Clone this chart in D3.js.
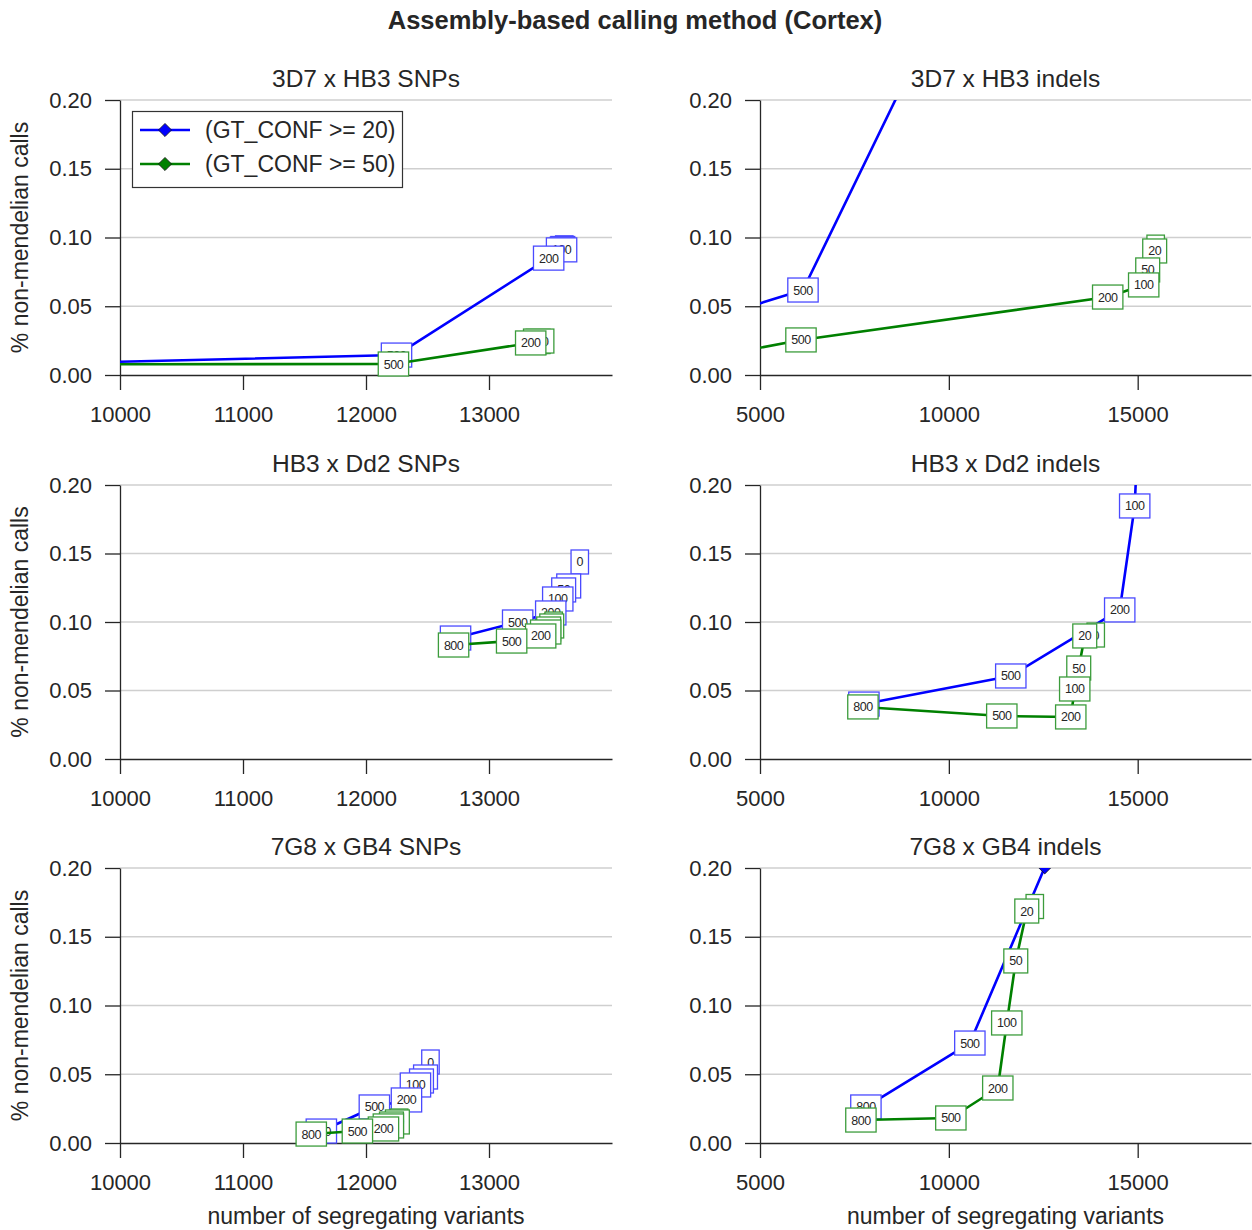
<!DOCTYPE html>
<html>
<head>
<meta charset="utf-8">
<script src="https://cdn.jsdelivr.net/npm/d3@7"></script>
<style>
  body { margin: 0; background: #fff; }
  text { font-family: "Liberation Sans", Arial, sans-serif; fill: #262626; }
</style>
</head>
<body>
<script>
// thresholds used as point labels, in drawing order
const thresholds = [0, 20, 50, 100, 200, 500, 800];

const panelTitles = ["3D7 x HB3 SNPs", "3D7 x HB3 indels", "HB3 x Dd2 SNPs",
                     "HB3 x Dd2 indels", "7G8 x GB4 SNPs", "7G8 x GB4 indels"];
const seriesNames = ["(GT_CONF >= 20)", "(GT_CONF >= 50)"];

const snpXTicks = [10000, 11000, 12000, 13000];
const indelXTicks = [5000, 10000, 15000];
const yTicks = [0, 0.05, 0.10, 0.15, 0.20];

// number of segregating variants / fraction non-mendelian, per threshold
const hb3SnpX20   = [13612, 13600, 13595, 13590, 13485, 12248, 9500];
const hb3SnpY20   = [0.0925, 0.092, 0.0915, 0.091, 0.085, 0.0145, 0.0085];
const hb3SnpX50   = [13396, 13398, 13400, 13404, 13339, 12223, 9500];
const hb3SnpY50   = [0.0242, 0.0243, 0.0245, 0.0247, 0.0233, 0.008, 0.0078];

const hb3IndelX20 = [14000, 13500, 13000, 12000, 10000, 6138, 4500];
const hb3IndelY20 = [0.6, 0.55, 0.5, 0.4, 0.28, 0.0618, 0.0479];
const hb3IndelX50 = [15476, 15450, 15265, 15159, 14206, 6085, 4500];
const hb3IndelY50 = [0.093, 0.0902, 0.0764, 0.0655, 0.0567, 0.0255, 0.0172];

const dd2SnpX20   = [13738, 13648, 13607, 13559, 13502, 13233, 12728];
const dd2SnpY20   = [0.1438, 0.1263, 0.1234, 0.1168, 0.1066, 0.100, 0.0883];
const dd2SnpX50   = [13526, 13510, 13485, 13461, 13420, 13184, 12712];
const dd2SnpY50   = [0.0985, 0.0971, 0.0949, 0.0927, 0.0898, 0.0861, 0.0832];

const dd2IndelX20 = [15300, 15200, 15026, 14921, 14524, 11640, 7751];
const dd2IndelY20 = [0.35, 0.3, 0.25, 0.1847, 0.1088, 0.0606, 0.0401];
const dd2IndelX50 = [13889, 13598, 13439, 13333, 13228, 11402, 7725];
const dd2IndelY50 = [0.0905, 0.0898, 0.0664, 0.0511, 0.0307, 0.0314, 0.038];

const gb4SnpX20   = [12524, 12484, 12451, 12402, 12329, 12068, 11637];
const gb4SnpY20   = [0.0589, 0.048, 0.0451, 0.0422, 0.0313, 0.0262, 0.0087];
const gb4SnpX50   = [12270, 12255, 12207, 12182, 12142, 11930, 11555];
const gb4SnpY50   = [0.016, 0.0153, 0.0138, 0.0124, 0.0102, 0.0087, 0.0065];

const gb4IndelX20 = [13400, 13200, 13000, 12800, 12540, 10556, 7804];
const gb4IndelY20 = [0.42, 0.35, 0.3, 0.25, 0.2005, 0.0727, 0.0262];
const gb4IndelX50 = [12275, 12063, 11772, 11534, 11296, 10053, 7672];
const gb4IndelY50 = [0.172, 0.1687, 0.1324, 0.0873, 0.04, 0.0182, 0.0167];

const panelData = [
  [[hb3SnpX20, hb3SnpY20], [hb3SnpX50, hb3SnpY50]],
  [[hb3IndelX20, hb3IndelY20], [hb3IndelX50, hb3IndelY50]],
  [[dd2SnpX20, dd2SnpY20], [dd2SnpX50, dd2SnpY50]],
  [[dd2IndelX20, dd2IndelY20], [dd2IndelX50, dd2IndelY50]],
  [[gb4SnpX20, gb4SnpY20], [gb4SnpX50, gb4SnpY50]],
  [[gb4IndelX20, gb4IndelY20], [gb4IndelX50, gb4IndelY50]]
];

const lineColors = ["#0000ff", "#008000"];
const boxColors = ["#4a4aff", "#3c9c3c"];

const cols = [{x0: 120, x1: 612, dom: [10000, 14000], ticks: snpXTicks},
              {x0: 760, x1: 1251, dom: [5000, 18000], ticks: indelXTicks}];
const rows = [{top: 100, bottom: 375}, {top: 485, bottom: 759}, {top: 868, bottom: 1143}];

const svg = d3.select("body").append("svg")
    .attr("width", 1252).attr("height", 1230);

svg.append("text")
    .attr("x", 635).attr("y", 29)
    .attr("text-anchor", "middle")
    .attr("font-size", "25.5px").attr("font-weight", "bold")
    .text("Assembly-based calling method (Cortex)");

const diamond = d3.symbol().type(d3.symbolDiamond2).size(110);

panelData.forEach((series, i) => {
    const c = cols[i % 2], r = rows[Math.floor(i / 2)];
    const x = d3.scaleLinear().domain(c.dom).range([c.x0, c.x1]);
    const y = d3.scaleLinear().domain([0, 0.2]).range([r.bottom, r.top]);
    const g = svg.append("g");

    const clipId = "clip" + i;
    g.append("clipPath").attr("id", clipId)
      .append("rect")
        .attr("x", c.x0).attr("y", r.top)
        .attr("width", c.x1 - c.x0).attr("height", r.bottom - r.top);

    // horizontal grid
    g.selectAll(".grid").data(yTicks.slice(1)).enter()
      .append("line")
        .attr("x1", c.x0).attr("x2", c.x1)
        .attr("y1", d => y(d)).attr("y2", d => y(d))
        .attr("stroke", "#cfcfcf").attr("stroke-width", 1.3);

    const yAxis = g.append("g")
        .attr("transform", "translate(" + c.x0 + ",0)")
        .call(d3.axisLeft(y).tickValues(yTicks).tickFormat(d3.format(".2f"))
              .tickSize(15).tickSizeOuter(0).tickPadding(13));
    const xAxis = g.append("g")
        .attr("transform", "translate(0," + r.bottom + ")")
        .call(d3.axisBottom(x).tickValues(c.ticks).tickFormat(d3.format("d"))
              .tickSize(15).tickSizeOuter(0).tickPadding(16));
    [yAxis, xAxis].forEach(a => {
        a.selectAll("path, line").attr("stroke", "#262626").attr("stroke-width", 1.3);
        a.selectAll("text").attr("font-size", "22px").attr("fill", "#262626")
            .attr("font-family", "Liberation Sans, Arial, sans-serif");
    });

    g.append("text")
        .attr("x", (c.x0 + c.x1) / 2).attr("y", r.top - 13)
        .attr("text-anchor", "middle").attr("font-size", "24.5px")
        .text(panelTitles[i]);

    if (i % 2 === 0) {
        g.append("text")
            .attr("transform", "translate(28," + (r.top + r.bottom) / 2 + ") rotate(-90)")
            .attr("text-anchor", "middle").attr("font-size", "23px")
            .text("% non-mendelian calls");
    }
    if (i >= 4) {
        g.append("text")
            .attr("x", (c.x0 + c.x1) / 2).attr("y", 1224)
            .attr("text-anchor", "middle").attr("font-size", "23px")
            .text("number of segregating variants");
    }

    series.forEach(([xs, ys], s) => {
        const pts = thresholds.map((t, k) => ({t: t, x: xs[k], y: ys[k]}));
        const plot = g.append("g");
        const clipped = plot.append("g").attr("clip-path", "url(#" + clipId + ")");
        clipped.append("path")
            .datum(pts)
            .attr("fill", "none")
            .attr("stroke", lineColors[s]).attr("stroke-width", 2.6)
            .attr("stroke-linejoin", "round")
            .attr("d", d3.line().x(d => x(d.x)).y(d => y(d.y)));
        clipped.selectAll(".mk").data(pts).enter()
          .append("path")
            .attr("transform", d => "translate(" + x(d.x) + "," + y(d.y) + ")")
            .attr("d", diamond)
            .attr("fill", lineColors[s]).attr("stroke", "#111").attr("stroke-width", 0.8);

        // annotation boxes only for points inside the axes
        const inside = pts.filter(d => d.x >= c.dom[0] && d.x <= c.dom[1] && d.y >= 0 && d.y <= 0.2);
        inside.forEach(d => {
            const lab = plot.append("g")
                .attr("transform", "translate(" + x(d.x) + "," + y(d.y) + ")");
            const rect = lab.append("rect");
            const txt = lab.append("text")
                .attr("text-anchor", "middle").attr("dy", "0.36em")
                .attr("font-size", "12.5px").attr("fill", "#3a3a3a")
                .attr("letter-spacing", "-0.5px")
                .text(d.t);
            const w = txt.node().getComputedTextLength() + 11;
            rect.attr("x", -w / 2).attr("y", -12).attr("width", w).attr("height", 24)
                .attr("fill", "#fff").attr("stroke", boxColors[s]).attr("stroke-width", 1.3);
        });
    });

    // legend in first panel
    if (i === 0) {
        const lg = g.append("g");
        lg.append("rect")
            .attr("x", 132.5).attr("y", 111.5).attr("width", 270).attr("height", 76)
            .attr("fill", "#fff").attr("stroke", "#333").attr("stroke-width", 1.2);
        seriesNames.forEach((name, s) => {
            const ly = 130 + s * 34;
            lg.append("line").attr("x1", 140).attr("x2", 190).attr("y1", ly).attr("y2", ly)
                .attr("stroke", lineColors[s]).attr("stroke-width", 2.6);
            lg.append("path").attr("transform", "translate(165," + ly + ")")
                .attr("d", diamond).attr("fill", lineColors[s])
                .attr("stroke", "#111").attr("stroke-width", 0.8);
            lg.append("text").attr("x", 205).attr("y", ly + 8)
                .attr("font-size", "23px").text(name);
        });
    }
});
</script>
</body>
</html>
